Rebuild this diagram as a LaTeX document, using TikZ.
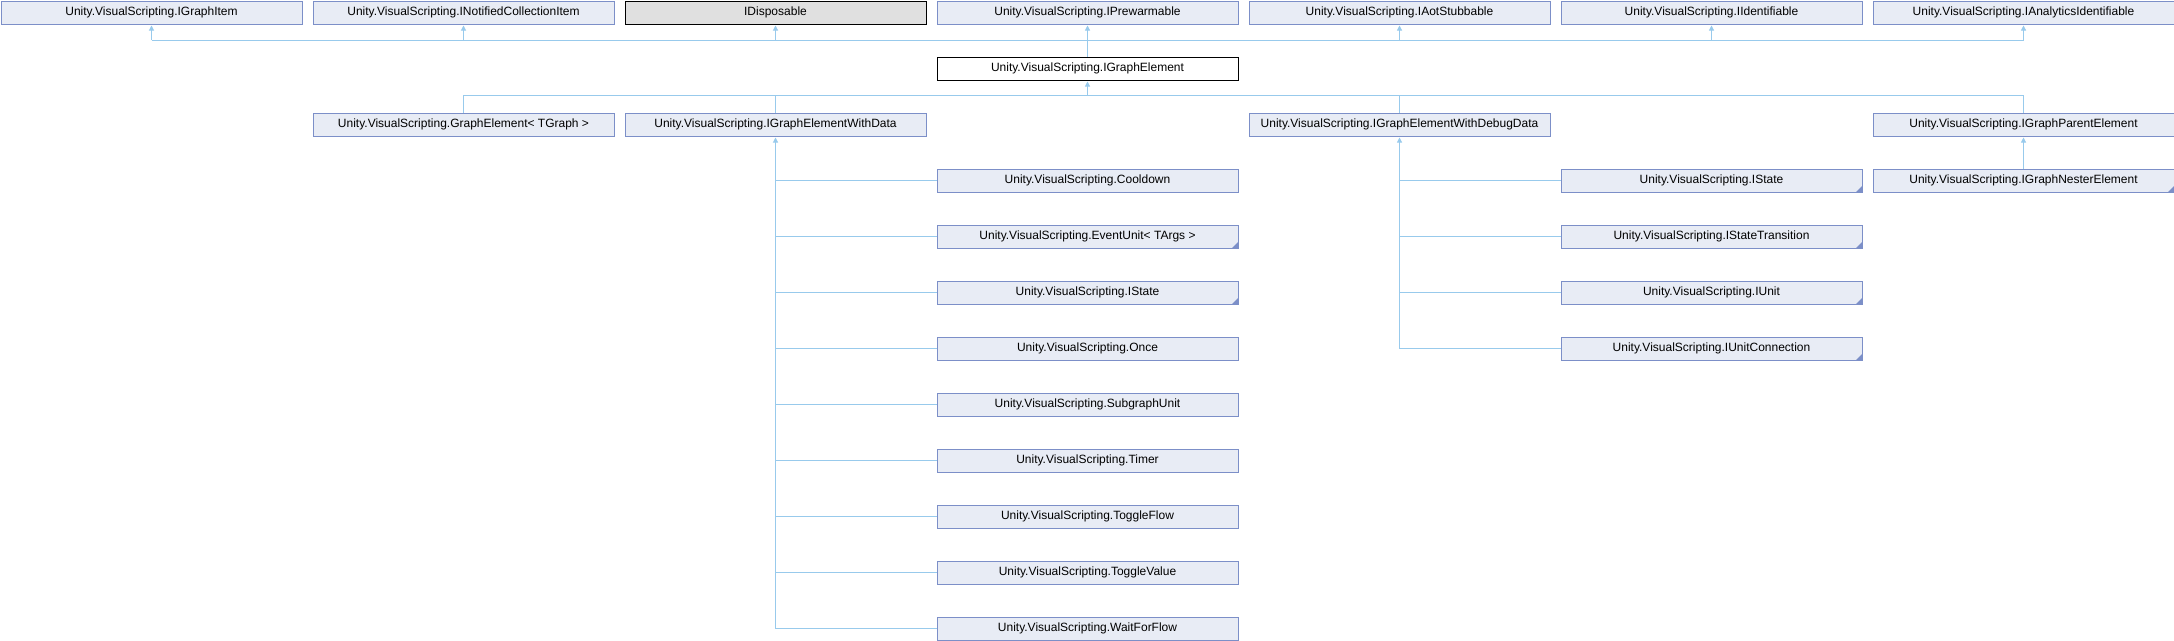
\documentclass[tikz,border=0pt]{standalone}
\usepackage{fontspec}
\setmainfont{Liberation Sans}
\usetikzlibrary{arrows.meta,positioning,calc}
\definecolor{clsfill}{RGB}{232,236,245}
\definecolor{clsedge}{RGB}{124,143,200}
\definecolor{linkblue}{RGB}{152,202,236}
\definecolor{extgray}{RGB}{224,224,224}

\begin{document}
\begin{tikzpicture}[
  x=1pt,y=-1pt,
  box/.style={draw=clsedge, fill=clsfill, line width=1pt, anchor=north west, minimum width=301pt, minimum height=23pt, inner sep=0pt, font=\fontsize{12}{14}\selectfont},
  ext/.style={box, draw=black, fill=extgray},
  cur/.style={box, draw=black, fill=white},
  more/.style={path picture={\fill[clsedge] (path picture bounding box.south east) -- ++(-6pt,0pt) -- ++(6pt,6pt) -- cycle;}},
  link/.style={draw=linkblue, line width=1pt},
  arr/.style={link, -{Triangle[length=5pt,width=5pt]}, shorten >=1pt}
]
\useasboundingbox (0,0) rectangle (2174,640);
% bases
\node[box] (graphitem) at (0.5,0.5) {Unity.VisualScripting.IGraphItem};
\node[box] (notified) at (312.5,0.5) {Unity.VisualScripting.INotifiedCollectionItem};
\node[ext] (disposable) at (624.5,0.5) {IDisposable};
\node[box] (prewarm) at (936.5,0.5) {Unity.VisualScripting.IPrewarmable};
\node[box] (aot) at (1248.5,0.5) {Unity.VisualScripting.IAotStubbable};
\node[box] (identifiable) at (1560.5,0.5) {Unity.VisualScripting.IIdentifiable};
\node[box] (analytics) at (1872.5,0.5) {Unity.VisualScripting.IAnalyticsIdentifiable};
% this one
\node[cur] (element) at (936.5,56.5) {Unity.VisualScripting.IGraphElement};
% derived
\node[box] (graphelem) at (312.5,112.5) {Unity.VisualScripting.GraphElement\textless{} TGraph \textgreater};
\node[box] (withdata) at (624.5,112.5) {Unity.VisualScripting.IGraphElementWithData};
\node[box] (withdebug) at (1248.5,112.5) {Unity.VisualScripting.IGraphElementWithDebugData};
\node[box] (parent) at (1872.5,112.5) {Unity.VisualScripting.IGraphParentElement};
\node[box,more] (nester) at (1872.5,168.5) {Unity.VisualScripting.IGraphNesterElement};
% with data
\node[box] (cooldown) at (936.5,168.5) {Unity.VisualScripting.Cooldown};
\node[box,more] (eventunit) at (936.5,224.5) {Unity.VisualScripting.EventUnit\textless{} TArgs \textgreater};
\node[box,more] (statea) at (936.5,280.5) {Unity.VisualScripting.IState};
\node[box] (once) at (936.5,336.5) {Unity.VisualScripting.Once};
\node[box] (subgraph) at (936.5,392.5) {Unity.VisualScripting.SubgraphUnit};
\node[box] (timer) at (936.5,448.5) {Unity.VisualScripting.Timer};
\node[box] (toggleflow) at (936.5,504.5) {Unity.VisualScripting.ToggleFlow};
\node[box] (togglevalue) at (936.5,560.5) {Unity.VisualScripting.ToggleValue};
\node[box] (waitforflow) at (936.5,616.5) {Unity.VisualScripting.WaitForFlow};
% with debug data
\node[box,more] (stateb) at (1560.5,168.5) {Unity.VisualScripting.IState};
\node[box,more] (transition) at (1560.5,224.5) {Unity.VisualScripting.IStateTransition};
\node[box,more] (iunit) at (1560.5,280.5) {Unity.VisualScripting.IUnit};
\node[box,more] (connection) at (1560.5,336.5) {Unity.VisualScripting.IUnitConnection};
% connectors
\coordinate (upper) at (0,40); \coordinate (lower) at (0,95);
\draw[link] (element.north) -- (element.north |- upper); \draw[link] (graphitem.south |- upper) -- (analytics.south |- upper);
\draw[arr] (graphitem.south |- upper) -- (graphitem.south); \draw[arr] (notified.south |- upper) -- (notified.south); \draw[arr] (disposable.south |- upper) -- (disposable.south); \draw[arr] (prewarm.south |- upper) -- (prewarm.south); \draw[arr] (aot.south |- upper) -- (aot.south); \draw[arr] (identifiable.south |- upper) -- (identifiable.south); \draw[arr] (analytics.south |- upper) -- (analytics.south);
\draw[arr] (element.south |- lower) -- (element.south); \draw[link] (graphelem.north |- lower) -- (parent.north |- lower);
\draw[link] (graphelem.north |- lower) -- (graphelem.north); \draw[link] (withdata.north |- lower) -- (withdata.north); \draw[link] (withdebug.north |- lower) -- (withdebug.north); \draw[link] (parent.north |- lower) -- (parent.north);
\draw[arr] (nester.north) -- (parent.south);
\draw[arr] (withdata.south |- waitforflow.west) -- (withdata.south);
\draw[link] (cooldown.west) -- (cooldown.west -| withdata.south); \draw[link] (eventunit.west) -- (eventunit.west -| withdata.south); \draw[link] (statea.west) -- (statea.west -| withdata.south); \draw[link] (once.west) -- (once.west -| withdata.south); \draw[link] (subgraph.west) -- (subgraph.west -| withdata.south); \draw[link] (timer.west) -- (timer.west -| withdata.south); \draw[link] (toggleflow.west) -- (toggleflow.west -| withdata.south); \draw[link] (togglevalue.west) -- (togglevalue.west -| withdata.south); \draw[link] (waitforflow.west) -- (waitforflow.west -| withdata.south);
\draw[arr] (withdebug.south |- connection.west) -- (withdebug.south);
\draw[link] (stateb.west) -- (stateb.west -| withdebug.south); \draw[link] (transition.west) -- (transition.west -| withdebug.south); \draw[link] (iunit.west) -- (iunit.west -| withdebug.south); \draw[link] (connection.west) -- (connection.west -| withdebug.south);
\end{tikzpicture}
\end{document}
